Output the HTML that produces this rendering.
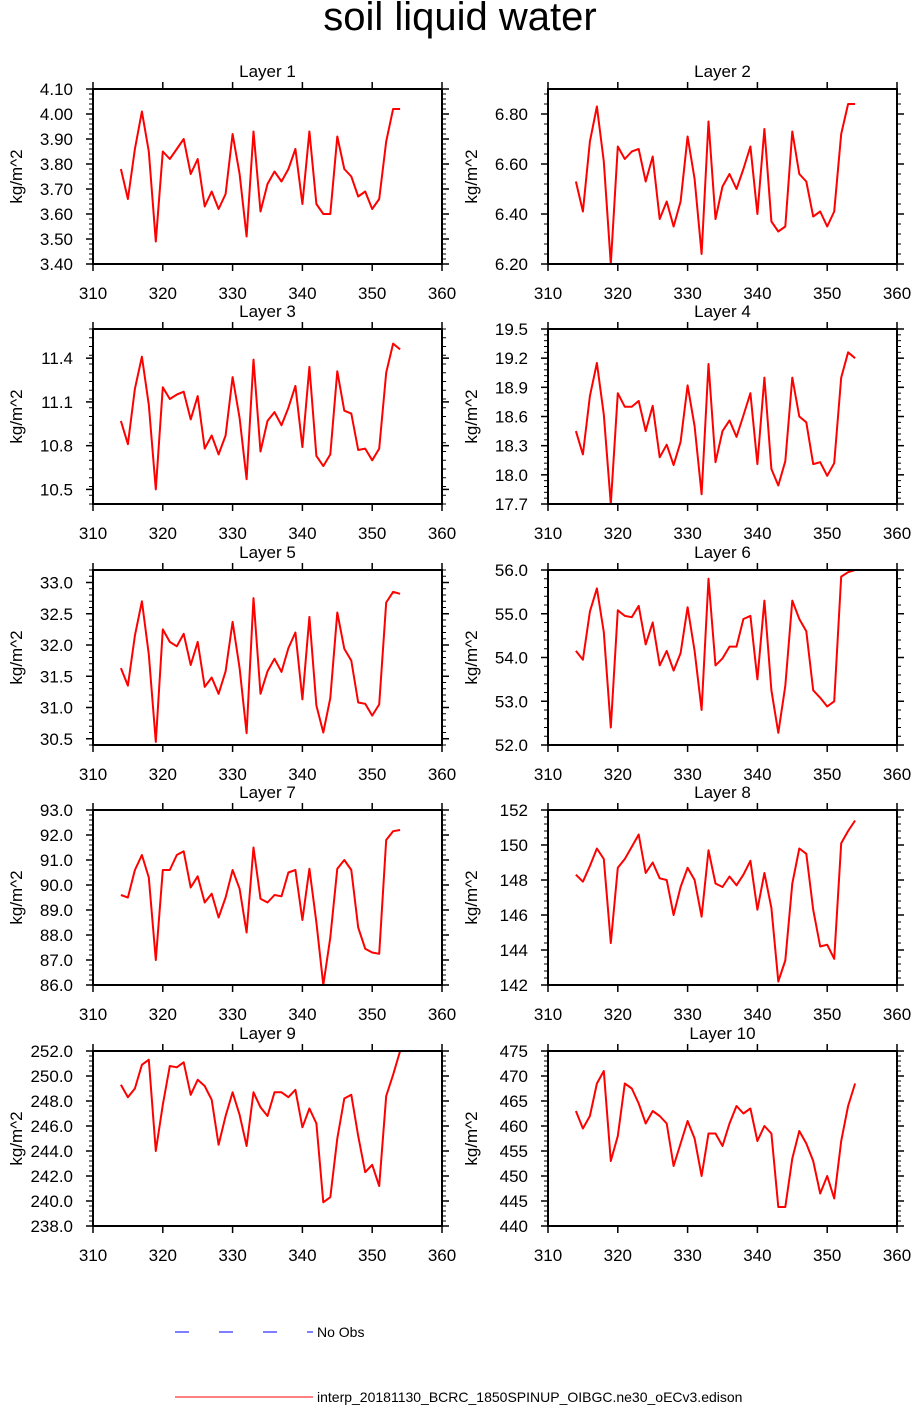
<!DOCTYPE html>
<html><head><meta charset="utf-8"><style>
body{margin:0;background:#fff;}
svg{display:block;font-family:"Liberation Sans",Helvetica,Arial,sans-serif;}
</style></head><body>
<svg id="c" width="912" height="1406">
<text x="460" y="30" font-size="40" text-anchor="middle">soil liquid water</text>
<g>
<line x1="175" y1="1332" x2="313" y2="1332" stroke="#0000ff" stroke-width="1" stroke-dasharray="14,30"/>
<text x="317" y="1337" font-size="14">No Obs</text>
<line x1="175" y1="1397" x2="313" y2="1397" stroke="#ff0000" stroke-width="1"/>
<text x="317" y="1402" font-size="14">interp_20181130_BCRC_1850SPINUP_OIBGC.ne30_oECv3.edison</text>
</g>
</svg>
<script>
const days = [];
for (let d = 314; d <= 354; d++) days.push(d);
const xTicks = [310,320,330,340,350,360];
const layerNames = ["Layer 1","Layer 2","Layer 3","Layer 4","Layer 5","Layer 6","Layer 7","Layer 8","Layer 9","Layer 10"];
const yMin = [3.40,6.20,10.40,17.7,30.4,52.0,86.0,142,238.0,440];
const yMax = [4.10,6.90,11.60,19.5,33.2,56.0,93.0,152,252.0,475];
const yTickStart = [3.40,6.20,10.5,17.7,30.5,52.0,86.0,142,238.0,440];
const yTickStep = [0.1,0.2,0.3,0.3,0.5,1.0,1.0,2,2.0,5];
const yDecimals = [2,2,1,1,1,1,1,0,1,0];
const layer1 = [3.78,3.66,3.86,4.01,3.85,3.49,3.85,3.82,3.86,3.90,3.76,3.82,3.63,3.69,3.62,3.68,3.92,3.76,3.51,3.93,3.61,3.72,3.77,3.73,3.78,3.86,3.64,3.93,3.64,3.60,3.60,3.91,3.78,3.75,3.67,3.69,3.62,3.66,3.89,4.02,4.02];
const layer2 = [6.53,6.41,6.69,6.83,6.61,6.20,6.67,6.62,6.65,6.66,6.53,6.63,6.38,6.45,6.35,6.45,6.71,6.54,6.24,6.77,6.38,6.51,6.56,6.50,6.58,6.67,6.40,6.74,6.37,6.33,6.35,6.73,6.56,6.53,6.39,6.41,6.35,6.41,6.72,6.84,6.84];
const layer3 = [10.97,10.81,11.19,11.41,11.08,10.50,11.20,11.12,11.15,11.17,10.98,11.14,10.78,10.87,10.74,10.87,11.27,10.99,10.57,11.39,10.76,10.97,11.03,10.94,11.06,11.21,10.79,11.34,10.73,10.66,10.74,11.31,11.04,11.02,10.77,10.78,10.70,10.78,11.30,11.50,11.46];
const layer4 = [18.45,18.21,18.81,19.15,18.62,17.70,18.84,18.70,18.70,18.76,18.45,18.71,18.18,18.31,18.10,18.34,18.92,18.50,17.80,19.14,18.13,18.45,18.56,18.39,18.61,18.84,18.11,19.00,18.06,17.89,18.14,19.00,18.60,18.54,18.11,18.13,17.99,18.12,19.00,19.26,19.20];
const layer5 = [31.63,31.35,32.15,32.70,31.85,30.45,32.25,32.05,31.98,32.18,31.68,32.05,31.33,31.48,31.22,31.58,32.37,31.63,30.59,32.75,31.22,31.58,31.78,31.57,31.95,32.20,31.13,32.45,31.03,30.60,31.15,32.52,31.94,31.75,31.08,31.06,30.87,31.05,32.68,32.85,32.82];
const layer6 = [54.15,53.95,55.05,55.58,54.58,52.40,55.08,54.95,54.92,55.18,54.30,54.80,53.82,54.15,53.70,54.10,55.15,54.15,52.80,55.80,53.82,53.98,54.25,54.25,54.88,54.95,53.50,55.30,53.25,52.28,53.35,55.30,54.88,54.60,53.25,53.08,52.88,53.00,55.85,55.95,56.0];
const layer7 = [89.6,89.5,90.6,91.2,90.3,87.0,90.6,90.6,91.2,91.35,89.9,90.35,89.3,89.65,88.7,89.5,90.6,89.85,88.1,91.5,89.45,89.3,89.6,89.55,90.5,90.6,88.6,90.65,88.5,86.0,87.9,90.65,91.0,90.6,88.3,87.45,87.3,87.25,91.8,92.15,92.2];
const layer8 = [148.3,147.9,148.8,149.8,149.2,144.4,148.7,149.2,149.9,150.6,148.4,149.0,148.1,148.0,146.0,147.6,148.7,148.0,145.9,149.7,147.8,147.6,148.2,147.7,148.3,149.1,146.3,148.4,146.4,142.2,143.4,147.8,149.8,149.5,146.3,144.2,144.3,143.5,150.1,150.8,151.4];
const layer9 = [249.3,248.3,249.0,250.9,251.3,244.0,247.7,250.8,250.7,251.1,248.5,249.7,249.2,248.1,244.5,246.8,248.7,246.9,244.4,248.7,247.5,246.8,248.7,248.7,248.3,248.9,245.9,247.4,246.2,239.9,240.3,245.0,248.2,248.5,245.2,242.3,242.9,241.2,248.4,250.1,252.0];
const layer10 = [463,459.5,462,468.5,471,453,458,468.5,467.5,464.5,460.5,463,462,460.5,452,456.5,461,457.5,450,458.5,458.5,456,460.5,464,462.5,463.5,457,460,458.5,443.8,443.8,453.5,459,456.5,453,446.5,450,445.5,457,464,468.5];
const series = [layer1,layer2,layer3,layer4,layer5,layer6,layer7,layer8,layer9,layer10];

const NS = "http://www.w3.org/2000/svg";
const svg = document.getElementById("c");
function mk(tag, attrs, parent) {
  const e = document.createElementNS(NS, tag);
  for (const k in attrs) e.setAttribute(k, attrs[k]);
  parent.appendChild(e);
  return e;
}
const W = 349, H = 175;
for (let i = 0; i < 10; i++) {
  const col = i % 2, row = Math.floor(i / 2);
  const L = col === 0 ? 93 : 548;
  const T = [89, 329, 570, 810, 1051][row];
  const g = mk("g", {}, svg);
  
  
  const xs = v => L + (v - 310) / 50 * W;
  const ys = v => T + H - (v - yMin[i]) / (yMax[i] - yMin[i]) * H;
  const t = mk("text", {x: L + W / 2, y: T - 12, "font-size": 17, "text-anchor": "middle"}, g);
  t.textContent = layerNames[i];
  
  
  xTicks.forEach(v => {
    const x = xs(v);
    mk("line", {x1: x, y1: T + H, x2: x, y2: T + H + 7, stroke: "#000", "stroke-width": 1.5}, g);
    mk("line", {x1: x, y1: T, x2: x, y2: T - 7, stroke: "#000", "stroke-width": 1.5}, g);
    const lb = mk("text", {x: x, y: T + H + 35, "font-size": 17, "text-anchor": "middle"}, g);
    lb.textContent = v;
    
    
  });
  const step = yTickStep[i];
  const minor = step / 5;
  for (let v = yMin[i]; v <= yMax[i] + 1e-9; v += minor) {
    const y = ys(v);
    mk("line", {x1: L, y1: y, x2: L - 4, y2: y, stroke: "#000", "stroke-width": 1}, g);
    mk("line", {x1: L + W, y1: y, x2: L + W + 4, y2: y, stroke: "#000", "stroke-width": 1}, g);
  }
  for (let v = yTickStart[i]; v <= yMax[i] + 1e-9; v += step) {
    const y = ys(v);
    mk("line", {x1: L, y1: y, x2: L - 7, y2: y, stroke: "#000", "stroke-width": 1.5}, g);
    mk("line", {x1: L + W, y1: y, x2: L + W + 7, y2: y, stroke: "#000", "stroke-width": 1.5}, g);
    const lb = mk("text", {x: L - 20, y: y + 6, "font-size": 17, "text-anchor": "end"}, g);
    lb.textContent = v.toFixed(yDecimals[i]);
    
    
  }
  const yt = mk("text", {x: 0, y: 0, "font-size": 17, "text-anchor": "middle", transform: "translate(" + (L - 71) + "," + (T + H / 2) + ") rotate(-90)"}, g);
  yt.textContent = "kg/m^2";
  
  
  const pts = series[i].map((v, k) => xs(days[k]).toFixed(1) + "," + ys(v).toFixed(1)).join(" ");
  const pl = mk("polyline", {points: pts, fill: "none", stroke: "#ff0000", "stroke-width": 2, "stroke-linejoin": "round"}, g);
  
  
  const fr = mk("rect", {x: L, y: T, width: W, height: H, fill: "none", stroke: "#000", "stroke-width": 2}, g);
  
  
}
</script>
</body></html>
